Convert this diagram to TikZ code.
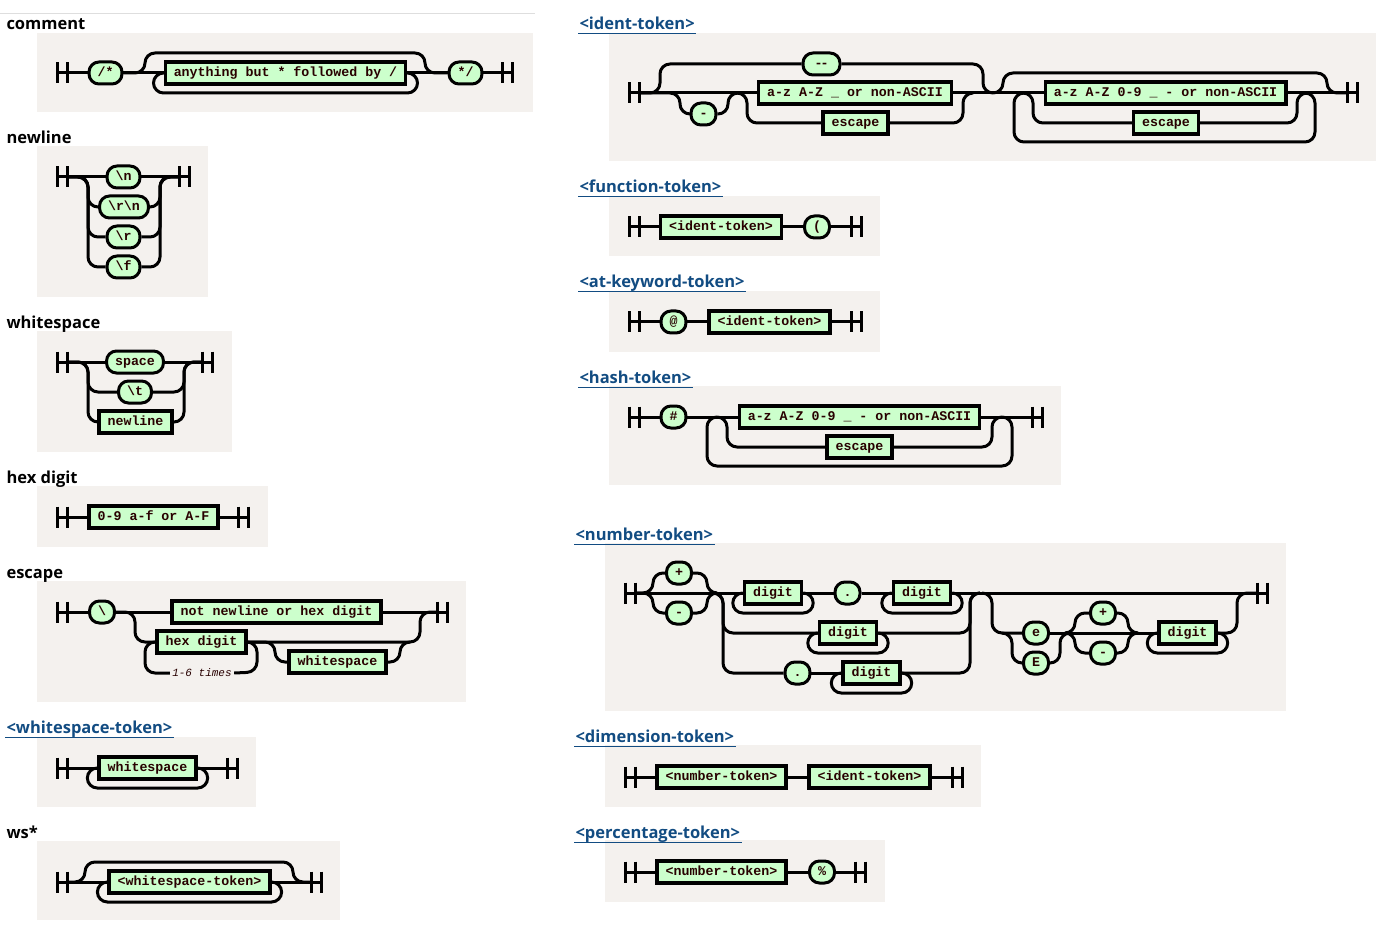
\documentclass[tikz,border=0pt]{standalone}
\usepackage{fontspec}
\setmainfont{Open Sans}
\newfontfamily\railfont{Liberation Mono}
\usepackage{tikz}
\usetikzlibrary{calc}

\definecolor{panelbg}{RGB}{244,241,238}
\definecolor{boxgreen}{RGB}{204,255,204}
\definecolor{linkblue}{RGB}{18,76,130}
\definecolor{labelred}{RGB}{40,0,0}
\definecolor{sepgray}{RGB}{222,222,222}

\tikzset{
  panel/.style={fill=panelbg, draw=none, sharp corners},
  title/.style={anchor=west, inner sep=0pt, text height=12pt, text depth=2.5pt, yshift=-1.75pt,
    font=\fontsize{16.5}{19}\selectfont\bfseries},
  link/.style={title, text=linkblue},
  underline/.style={draw=linkblue, line width=1pt, sharp corners},
  term/.style={draw, fill=boxgreen, rounded corners=10pt, line width=3pt, minimum height=22pt,
    inner xsep=8.5pt, inner ysep=0pt, text height=9pt, text depth=2.5pt, text=labelred,
    font=\railfont\bfseries\fontsize{13.3}{15}\selectfont},
  nterm/.style={term, sharp corners, line width=3.5pt},
  bar/.style={minimum width=10pt, minimum height=21pt, inner sep=0pt, outer sep=0pt,
    append after command={(\tikzlastnode.north west) edge (\tikzlastnode.south west)
      (\tikzlastnode.north east) edge (\tikzlastnode.south east)
      (\tikzlastnode.west) edge (\tikzlastnode.east)}},
  note/.style={inner sep=1pt, text=labelred, font=\railfont\itshape\fontsize{11}{12}\selectfont}
}

\begin{document}
\begin{tikzpicture}[x=1pt, y=-1pt, line width=3pt, rounded corners=10pt]
\useasboundingbox (0,0) rectangle (1379,925);
\draw[sepgray, line width=1pt] (0,14) -- (535,14);

%% comment
\fill[panel] (37,33) rectangle (533,112);
\node[title] (tComment) at (5,23) {comment};
\node[bar] (cS) at (62,73) {};
\node[term] (cOpen) at (105.5,73) {/*};
\node[nterm] (cBody) at (285.5,73) {anything but * followed by /};
\node[term] (cClose) at (465.5,73) {*/};
\node[bar] (cE) at (507,73) {};
\draw (cS) -- (cOpen);
\draw (cOpen) -- (cBody);
\draw (cBody) -- (cClose);
\draw (cClose) -- (cE);
\draw (cOpen.east) -- (145,73) -- (145,53) -| (425,73) -- (cClose.west);
\draw (cBody.east) -- ++(10,0) -- ++(0,20) -- ($(cBody.west)+(-10,20)$) -- ($(cBody.west)+(-10,0)$) -- (cBody.west);

%% newline
\fill[panel] (37,146) rectangle (208,297);
\node[title] (tNewline) at (5,137) {newline};
\node[bar] (nlS) at (62,177) {};
\node[term] (nlN) at (123.5,177) {\textbackslash n};
\node[term] (nlRN) at (124,207) {\textbackslash r\textbackslash n};
\node[term] (nlR) at (123.5,237) {\textbackslash r};
\node[term] (nlF) at (123.5,267) {\textbackslash f};
\node[bar] (nlE) at (184,177) {};
\draw (nlS) -- (nlN);
\draw (nlN) -- (nlE);
\foreach \b in {nlRN,nlR,nlF} {
  \draw (nlS.east) -- (88,177) |- (\b.west);
  \draw (\b.east) -| (160,177) -- (nlE.west);
}

%% whitespace
\fill[panel] (37,331) rectangle (232,452);
\node[title] (tWhite) at (5,322) {whitespace};
\node[bar] (wS) at (62,362) {};
\node[term] (wSp) at (135,362) {space};
\node[term] (wT) at (135,392) {\textbackslash t};
\node[nterm] (wNl) at (135.5,422) {newline};
\node[bar] (wE) at (207.5,362) {};
\draw (wS) -- (wSp);
\draw (wSp) -- (wE);
\foreach \b in {wT,wNl} {
  \draw (wS.east) -- (88,362) |- (\b.west);
  \draw (\b.east) -| (184,362) -- (wE.west);
}

%% hex digit
\fill[panel] (37,486) rectangle (268,547);
\node[title] (tHex) at (5,477) {hex digit};
\node[bar] (hxS) at (62,517) {};
\node[nterm] (hxR) at (153.5,517) {0-9 a-f or A-F};
\node[bar] (hxE) at (243,517) {};
\draw (hxS) -- (hxR);
\draw (hxR) -- (hxE);

%% escape
\fill[panel] (37,581) rectangle (466,702);
\node[title] (tEscape) at (5,572) {escape};
\node[bar] (eS) at (62,612) {};
\node[term] (eBs) at (102,612) {\textbackslash};
\node[nterm] (eNot) at (276.5,612) {not newline or hex digit};
\node[nterm] (eHex) at (201.5,642) {hex digit};
\node[nterm] (eWs) at (337.5,662) {whitespace};
\node[note] (eTimes) at (202,673) {1-6 times};
\node[bar] (eE) at (442.5,612) {};
\coordinate (eJ) at (410,642);
\draw (eS) -- (eBs);
\draw (eBs) -- (eNot);
\draw (eNot) -- (eE);
\draw (eBs.east) -- (135,612) |- (eHex.west);
\draw (eHex.east) -| (257,672) -- (eTimes.east);
\draw (eTimes.west) -| (145,642) -- (eHex.west);
\draw (eHex.east) -- (420,642) -- (420,612) -- (eE.west);
\draw (eHex.east) -- (275,642) |- (eWs.west);
\draw (eWs.east) -| (400,642) -- (eJ);

%% whitespace-token
\fill[panel] (37,737) rectangle (256,807);
\node[link] (tWsTok) at (5,727) {<whitespace-token>};
\draw[underline] (tWsTok.south west) -- (tWsTok.south east);
\node[bar] (wtS) at (62,768) {};
\node[nterm] (wtWs) at (147.5,768) {whitespace};
\node[bar] (wtE) at (232,768) {};
\draw (wtS) -- (wtWs);
\draw (wtWs) -- (wtE);
\draw (wtWs.east) -- ++(10,0) -- ++(0,20) -- ($(wtWs.west)+(-10,20)$) -- ($(wtWs.west)+(-10,0)$) -- (wtWs.west);

%% ws*
\fill[panel] (37,841) rectangle (340,920);
\node[title] (tWsStar) at (5,832) {ws*};
\node[bar] (wsS) at (62,882) {};
\node[nterm] (wsTok) at (189.5,882) {<whitespace-token>};
\node[bar] (wsE) at (316,882) {};
\draw (wsS) -- (wsTok);
\draw (wsTok) -- (wsE);
\draw (wsS.east) -- (85,882) -- (85,862) -| (293,882) -- (wsE.west);
\draw (wsTok.east) -- ++(10,0) -- ++(0,20) -- ($(wsTok.west)+(-10,20)$) -- ($(wsTok.west)+(-10,0)$) -- (wsTok.west);

%% ident-token
\fill[panel] (609,33) rectangle (1376,161);
\node[link] (tIdent) at (578,23) {<ident-token>};
\draw[underline] (tIdent.south west) -- (tIdent.south east);
\node[bar] (iS) at (634,93) {};
\node[term, minimum width=37pt] (iDD) at (821.5,64) {-\kern-2pt-};
\node[term] (iHy) at (703.5,114) {-};
\node[nterm] (iA) at (855,93) {a-z A-Z \_ or non-ASCII};
\node[nterm] (iEsc) at (855.5,123) {escape};
\node[nterm] (iB) at (1165.5,93) {a-z A-Z 0-9 \_ - or non-ASCII};
\node[nterm] (iEsc2) at (1166,123) {escape};
\node[bar] (iE) at (1352,93) {};
\coordinate (iJ) at (993,93);
\draw (iS) -- (iA);
\draw (iA) -- (iB);
\draw (iB) -- (iE);
\draw (iS.east) -- (660,93) |- (iDD.west);
\draw (iDD.east) -| (983,93) -- (iJ);
\draw (iS.east) -- (680,93) |- (iHy.west);
\draw (iHy.east) -| (728,93) -- (738,93);
\draw (737,93) -- (747,93) |- (iEsc.west);
\draw (iEsc.east) -| (963,93) -- (973,93);
\draw (iJ) -- (1003,93) -- (1003,73) -| (1327,93) -- (iE.west);
\draw (1023,93) -- (1033,93) |- (iEsc2.west);
\draw (iEsc2.east) -| (1297,93) -- (1307,93);
\draw (1305,93) -- (1315,93) -- (1315,142) -| (1014,93) -- (1024,93);

%% function-token
\fill[panel] (609,196) rectangle (880,256);
\node[link] (tFunc) at (578,186) {<function-token>};
\draw[underline] (tFunc.south west) -- (tFunc.south east);
\node[bar] (fS) at (634,227) {};
\node[nterm] (fId) at (721,227) {<ident-token>};
\node[term] (fPar) at (817,227) {(};
\node[bar] (fE) at (856,227) {};
\draw (fS) -- (fId);
\draw (fId) -- (fPar);
\draw (fPar) -- (fE);

%% at-keyword-token
\fill[panel] (609,291) rectangle (880,352);
\node[link] (tAt) at (578,281) {<at-keyword-token>};
\draw[underline] (tAt.south west) -- (tAt.south east);
\node[bar] (aS) at (634,322) {};
\node[term] (aAt) at (673.5,322) {@};
\node[nterm] (aId) at (769.5,322) {<ident-token>};
\node[bar] (aE) at (856,322) {};
\draw (aS) -- (aAt);
\draw (aAt) -- (aId);
\draw (aId) -- (aE);

%% hash-token
\fill[panel] (609,386) rectangle (1061,485);
\node[link] (tHash) at (578,377) {<hash-token>};
\draw[underline] (tHash.south west) -- (tHash.south east);
\node[bar] (hS) at (634,417) {};
\node[term] (hH) at (673.5,417) {\#};
\node[nterm] (hA) at (859.5,417) {a-z A-Z 0-9 \_ - or non-ASCII};
\node[nterm] (hEsc) at (859.5,447) {escape};
\node[bar] (hE) at (1037,417) {};
\draw (hS) -- (hH);
\draw (hH) -- (hA);
\draw (hA) -- (hE);
\draw (717,417) -- (727,417) |- (hEsc.west);
\draw (hEsc.east) -| (992,417) -- (1002,417);
\draw (1002,417) -- (1012,417) -- (1012,466) -| (707,417) -- (717,417);

%% number-token
\fill[panel] (605,543) rectangle (1286,711);
\node[link] (tNum) at (574,534) {<number-token>};
\draw[underline] (tNum.south west) -- (tNum.south east);
\node[bar] (nS) at (630,593) {};
\node[term] (nPlus) at (679,573) {+};
\node[term] (nMinus) at (679,613) {-};
\node[nterm] (nD1) at (773,593) {digit};
\node[term] (nDot1) at (847.5,593) {.};
\node[nterm] (nD2) at (922,593) {digit};
\node[nterm] (nD3) at (848,633) {digit};
\node[term] (nDot2) at (797.5,673) {.};
\node[nterm] (nD4) at (871.5,673) {digit};
\node[term] (nLe) at (1036,633) {e};
\node[term] (nUe) at (1036,663) {E};
\node[term] (nPlus2) at (1103,613) {+};
\node[term] (nMinus2) at (1103,653) {-};
\node[nterm] (nD5) at (1187.5,633) {digit};
\node[bar] (nE) at (1262,593) {};
\draw (nS) -- (nD1);
\draw (nD1) -- (nDot1);
\draw (nDot1) -- (nD2);
\draw (nD2) -- (nE);
\foreach \s in {nPlus,nMinus} {
  \draw (nS.east) -- (653,593) |- (\s.west);
  \draw (\s.east) -| (707,593) -- (717,593);
}
\foreach \d in {nD1,nD2,nD3,nD4,nD5}
  \draw (\d.east) -- ++(10,0) -- ++(0,20) -- ($(\d.west)+(-10,20)$) -- ($(\d.west)+(-10,0)$) -- (\d.west);
\draw (713,593) -- (723,593) |- (nD3.west);
\draw (nD3.east) -| (970,593) -- (980,593);
\draw (713,593) -- (723,593) |- (nDot2.west);
\draw (nDot2) -- (nD4);
\draw (nD4.east) -| (970,593) -- (980,593);
\draw (982,593) -- (992,593) |- (nLe.west);
\draw (1002,633) -- (1012,633) |- (nUe.west);
\draw (nUe.east) -| (1060,633) -- (1070,633);
\draw (nLe) -- (nD5);
\foreach \s in {nPlus2,nMinus2} {
  \draw (1065,633) -- (1075,633) |- (\s.west);
  \draw (\s.east) -| (1128,633) -- (1138,633);
}
\draw (nD5.east) -- (1237,633) -- (1237,593) -- (nE.west);

%% dimension-token
\fill[panel] (605,745) rectangle (981,807);
\node[link] (tDim) at (574,736) {<dimension-token>};
\draw[underline] (tDim.south west) -- (tDim.south east);
\node[bar] (dS) at (630,777) {};
\node[nterm] (dNum) at (721.5,777) {<number-token>};
\node[nterm] (dId) at (869.5,777) {<ident-token>};
\node[bar] (dE) at (957,777) {};
\draw (dS) -- (dNum);
\draw (dNum) -- (dId);
\draw (dId) -- (dE);

%% percentage-token
\fill[panel] (605,840) rectangle (885,902);
\node[link] (tPct) at (574,832) {<percentage-token>};
\draw[underline] (tPct.south west) -- (tPct.south east);
\node[bar] (pS) at (630,872) {};
\node[nterm] (pNum) at (721.5,872) {<number-token>};
\node[term] (pPct) at (822,872) {\%};
\node[bar] (pE) at (860.5,872) {};
\draw (pS) -- (pNum);
\draw (pNum) -- (pPct);
\draw (pPct) -- (pE);
\end{tikzpicture}
\end{document}
